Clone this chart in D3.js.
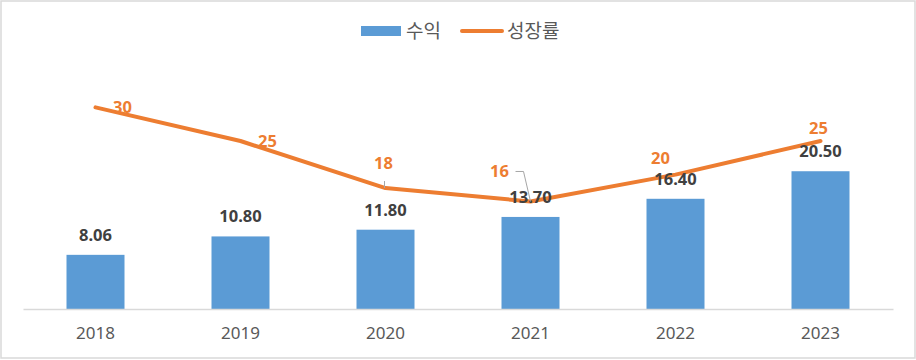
<!DOCTYPE html>
<html><head><meta charset="utf-8">
<script src="https://cdn.jsdelivr.net/npm/d3@7"></script>
<style>body{margin:0;background:#fff}svg{display:block}</style>
</head><body>
<svg id="c" width="916" height="360"></svg>
<script>
const years = ["2018","2019","2020","2021","2022","2023"];
const revenue = [8.06, 10.80, 11.80, 13.70, 16.40, 20.50];
const growth = [30, 25, 18, 16, 20, 25];
const legendLabels = ["수익", "성장률"];
// label offsets (styling) for growth labels
const growthLabelOffset = [[27,0],[27,0],[-2,-25],[-31,-30],[-15,-17],[-2,-13]];

const svg = d3.select("#c");
const W = 916, H = 360;
svg.append("rect").attr("x",1).attr("y",1).attr("width",W-2).attr("height",H-3)
  .attr("fill","#fff").attr("stroke","#d9d9d9").attr("stroke-width",1.5);

const left = 23, right = 893, base = 309;
const x = d3.scaleBand().domain(years).range([left, right]).paddingInner(0.6).paddingOuter(0.3);
const yBar = d3.scaleLinear().domain([0,35]).range([base, base - 35*6.72]);
const yLine = d3.scaleLinear().domain([0,35]).range([base, base - 35*6.72]);
const cx = d => x(d) + x.bandwidth()/2;

// bars
svg.append("g").selectAll("rect").data(years).join("rect")
  .attr("x", d => x(d)).attr("width", x.bandwidth())
  .attr("y", (d,i) => yBar(revenue[i])).attr("height", (d,i) => base - yBar(revenue[i]))
  .attr("fill","#5b9bd5");

// axis
const xAxis = d3.axisBottom(x).tickSize(0).tickPadding(18);
const ag = svg.append("g").attr("transform",`translate(0,${base})`).call(xAxis);
ag.select(".domain").attr("stroke","#d9d9d9").attr("stroke-width",1.3);
ag.selectAll("text").attr("font-family","'Noto Sans', sans-serif").attr("font-size",17).attr("fill","#595959");

// line
const line = d3.line().x((d,i) => cx(years[i])).y(d => yLine(d));
svg.append("path").datum(growth).attr("d", line).attr("fill","none")
  .attr("stroke","#ed7d31").attr("stroke-width",4).attr("stroke-linecap","round").attr("stroke-linejoin","round");

// bar labels
svg.append("g").selectAll("text").data(revenue).join("text")
  .attr("x", (d,i) => cx(years[i])).attr("y", d => yBar(d) - 14)
  .attr("text-anchor","middle").attr("font-family","'Noto Sans', sans-serif")
  .attr("font-weight","bold").attr("font-size",16.5).attr("fill","#404040")
  .text(d => d.toFixed(2));

// leader lines
{
  let i = 3, px = cx(years[i]), py = yLine(growth[i]);
  let lx = px + growthLabelOffset[i][0], ly = py + growthLabelOffset[i][1];
  svg.append("path").attr("d", `M${lx+16},${ly} L${lx+24},${ly} L${px},${py}`)
    .attr("fill","none").attr("stroke","#a6a6a6").attr("stroke-width",1);
  i = 2; px = cx(years[i]); py = yLine(growth[i]);
  svg.append("path").attr("d", `M${px-1},${py-7} L${px-1},${py}`)
    .attr("fill","none").attr("stroke","#a6a6a6").attr("stroke-width",1);
}

// growth labels
svg.append("g").selectAll("text").data(growth).join("text")
  .attr("x", (d,i) => cx(years[i]) + growthLabelOffset[i][0])
  .attr("y", (d,i) => yLine(d) + growthLabelOffset[i][1] + 6)
  .attr("text-anchor","middle").attr("font-family","'Noto Sans', sans-serif")
  .attr("font-weight","bold").attr("font-size",16.5).attr("fill","#ed7d31")
  .text(d => d);

// legend
const lg = svg.append("g");
lg.append("rect").attr("x",361).attr("y",26).attr("width",40).attr("height",10).attr("fill","#5b9bd5");
lg.append("text").attr("x",406).attr("y",38).attr("font-family","'Noto Sans CJK KR', sans-serif")
  .attr("font-size",19).attr("fill","#595959").text(legendLabels[0]);
lg.append("line").attr("x1",462).attr("x2",502).attr("y1",31).attr("y2",31)
  .attr("stroke","#ed7d31").attr("stroke-width",4).attr("stroke-linecap","round");
lg.append("text").attr("x",507).attr("y",38).attr("font-family","'Noto Sans CJK KR', sans-serif")
  .attr("font-size",19).attr("fill","#595959").text(legendLabels[1]);
</script>
</body></html>
